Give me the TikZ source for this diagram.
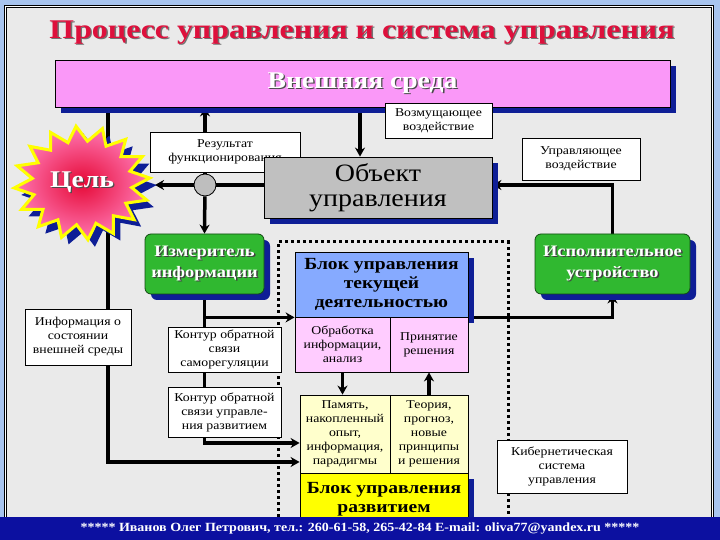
\documentclass[tikz,border=0pt]{standalone}
\usepackage{fontspec}
\usepackage{graphicx}
\setmainfont{Liberation Serif}
\usetikzlibrary{arrows.meta,shadows}
\pgfdeclarelayer{bg}
\pgfdeclarelayer{lines}
\pgfsetlayers{bg,lines,main}
\definecolor{edgeblue}{RGB}{168,196,238}
\definecolor{pagegrey}{RGB}{234,234,234}
\definecolor{titlered}{RGB}{222,16,60}
\definecolor{envpink}{RGB}{250,152,248}
\definecolor{shadeblue}{RGB}{14,30,150}
\definecolor{objgrey}{RGB}{192,192,192}
\definecolor{boxgreen}{RGB}{48,184,48}
\definecolor{blkblue}{RGB}{134,170,255}
\definecolor{cellpink}{RGB}{255,204,255}
\definecolor{cellyellow}{RGB}{255,255,204}
\definecolor{blkyellow}{RGB}{255,255,0}
\definecolor{barblue}{RGB}{12,16,160}
\definecolor{circgrey}{RGB}{190,190,190}
\newcommand\notefont{\fontsize{12}{14}\selectfont}
\newcommand\shtx[2][black]{\leavevmode\rlap{\hspace{1.2pt}\raisebox{-1.2pt}{\textcolor{#1}{#2}}}#2}
\newcommand\wtx[2][1.15]{\scalebox{#1}[1]{#2}}
\tikzset{
    shadowed/.style={drop shadow={shadow xshift=6pt,shadow yshift=-6pt,fill=shadeblue,opacity=1}},
    note/.style={draw, fill=white, line width=0.8pt, align=center, inner sep=1pt, font=\notefont},
    cell/.style={draw, line width=0.8pt, align=center, inner sep=1pt, font=\notefont},
    greenbox/.style={draw=black!60!boxgreen, line width=0.8pt, fill=boxgreen, rounded corners=6pt, align=center, inner sep=1pt, text=white, font=\bfseries\fontsize{16}{21}\selectfont, shadowed},
    blk/.style={draw, line width=0.8pt, align=center, inner sep=1pt, font=\bfseries\fontsize{17}{19}\selectfont, shadowed},
    wire/.style={line width=3.5pt},
    arr/.style={wire, -{Stealth[length=9pt,width=10pt]}}
}
\begin{document}
\begin{tikzpicture}[x=1pt,y=1pt]
    \useasboundingbox (0,0) rectangle (720,540);
    \begin{pgfonlayer}{bg}
    \fill[edgeblue] (0,0) rectangle (720,540);
    \fill[pagegrey] (5,23) rectangle (713,534);
    \draw[line width=0.6pt, double=white, double distance=1pt] (5.5,23) -- (5.5,533.5) -- (712.5,533.5) -- (712.5,23);
    \end{pgfonlayer}
    \node[font=\bfseries\fontsize{27}{30}\selectfont, text=titlered] (title) at (362,507) {\wtx[1.18]{\shtx[black!55]{Процесс управления и система управления}}};
    \node[draw, line width=0.8pt, fill=envpink, minimum width=615pt, minimum height=47pt, text=white, font=\bfseries\fontsize{24}{26}\selectfont, shadowed] (env) at (362.5,456.5) {\wtx{\shtx[black!70]{Внешняя среда}}};
    \node[note, minimum width=107pt, minimum height=35pt] (perturb) at (438.5,419.5) {\wtx{Возмущающее}\\\wtx{воздействие}};
    \node[note, minimum width=150pt, minimum height=40pt] (result) at (225,388) {\wtx{Результат}\\\wtx{функционирования}};
    \node[circle, draw, line width=0.8pt, fill=circgrey, minimum size=22pt, inner sep=0pt] (circ) at (205,355) {};
    \fill[shadeblue] plot[samples at={0,...,31}, variable=\k] ({89+(mod(\k,2)==0 ? 68 : 50)*cos(\k*11.25+5)}, {350+(mod(\k,2)==0 ? 57 : 42)*sin(\k*11.25+5)}) -- cycle;
    \draw[blkyellow, line width=3pt, inner color={rgb,255:red,230;green,10;blue,55}, outer color={rgb,255:red,255;green,120;blue,180}] plot[samples at={0,...,31}, variable=\k] ({82+(mod(\k,2)==0 ? 68 : 50)*cos(\k*11.25+5)}, {357+(mod(\k,2)==0 ? 57 : 42)*sin(\k*11.25+5)}) -- cycle;
    \node[text=white, font=\bfseries\fontsize{24}{26}\selectfont] (goal) at (82,357) {\wtx{\shtx[black!70]{Цель}}};
    \coordinate (goaltip) at (155,355);
    \node[draw, line width=0.8pt, fill=objgrey, minimum width=228pt, minimum height=61pt, align=center, inner sep=1pt, font=\fontsize{25}{25}\selectfont, shadowed] (object) at (378,352.5) {\wtx[1.12]{Объект}\\\wtx[1.12]{управления}};
    \node[note, minimum width=118pt, minimum height=42pt] (ctrlact) at (581,381) {\wtx{Управляющее}\\\wtx{воздействие}};
    \node[greenbox, minimum width=119pt, minimum height=60pt] (meter) at (204.5,276) {\wtx{\shtx[black!75]{Измеритель}}\\\wtx{\shtx[black!75]{информации}}};
    \node[greenbox, minimum width=155pt, minimum height=60pt] (actuator) at (612.5,276) {\wtx{\shtx[black!75]{Исполнительное}}\\\wtx{\shtx[black!75]{устройство}}};
    \node[note, minimum width=106pt, minimum height=56pt] (extinfo) at (78,203) {\wtx{Информация о}\\\wtx{состоянии}\\\wtx{внешней среды}};
    \node[note, minimum width=113pt, minimum height=45pt] (loop1) at (224.5,190.5) {\wtx{Контур обратной}\\\wtx{связи}\\\wtx{саморегуляции}};
    \node[note, minimum width=113pt, minimum height=50pt] (loop2) at (224.5,128) {\wtx{Контур обратной}\\\wtx{связи управле-}\\\wtx{ния развитием}};
    \node[blk, fill=blkblue, minimum width=173pt, minimum height=65pt] (curblk) at (381.5,255.5) {\wtx{Блок управления}\\\wtx{текущей}\\\wtx{деятельностью}};
    \node[cell, fill=cellpink, minimum width=95pt, minimum height=55pt] (proc) at (342.5,195.5) {\wtx{Обработка}\\\wtx{информации,}\\\wtx{анализ}};
    \node[cell, fill=cellpink, minimum width=78pt, minimum height=55pt] (decide) at (429,195.5) {\wtx{Принятие}\\\wtx{решения}};
    \node[blk, fill=blkyellow, minimum width=168pt, minimum height=52pt] (devblk) at (384,41) {\wtx{Блок управления}\\\wtx{развитием}};
    \node[cell, fill=cellyellow, minimum width=90pt, minimum height=78pt] (memory) at (345,106) {\wtx{Память,}\\\wtx{накопленный}\\\wtx{опыт,}\\\wtx{информация,}\\\wtx{парадигмы}};
    \node[cell, fill=cellyellow, minimum width=78pt, minimum height=78pt] (theory) at (429,106) {\wtx{Теория,}\\\wtx{прогноз,}\\\wtx{новые}\\\wtx{принципы}\\\wtx{и решения}};
    \node[note, minimum width=130pt, minimum height=53pt] (cyber) at (562,73.5) {\wtx{Кибернетическая}\\\wtx{система}\\\wtx{управления}};
    \fill[barblue] (0,0) rectangle (720,23);
    \node[text=white, font=\bfseries\fontsize{12.5}{14}\selectfont] (footer) at (360,11.5) {\wtx[1.12]{***** Иванов Олег Петрович, тел.: 260-61-58, 265-42-84 E-mail: oliva77@yandex.ru *****}};
    \begin{pgfonlayer}{lines}
    \draw[line width=3pt, dash pattern=on 3pt off 3pt] (278,23) -- (278,298) -- (508,298) -- (508,23);
    \draw[arr] (108,0 |- env.south) |- ([yshift=-28pt]memory.west);
    \draw[arr] (circ) -- (circ |- env.south);
    \draw[arr] (360,0 |- env.south) -- (360,0 |- object.north);
    \draw[wire] (object.west |- circ) -- (circ);
    \draw[arr] (circ) -- (goaltip);
    \draw[arr] (circ) -- (meter.north);
    \draw[arr] (actuator.north) |- (object.east |- circ);
    \draw[arr] (meter.south) |- (curblk.south west);
    \draw[arr] (meter.south) |- ([yshift=-9pt]memory.west);
    \draw[arr] (curblk.south east) -| (actuator.south);
    \draw[arr] (proc.south) -- (proc.south |- memory.north);
    \draw[arr] (theory.north) -- (theory.north |- decide.south);
    \end{pgfonlayer}
\end{tikzpicture}
\end{document}
